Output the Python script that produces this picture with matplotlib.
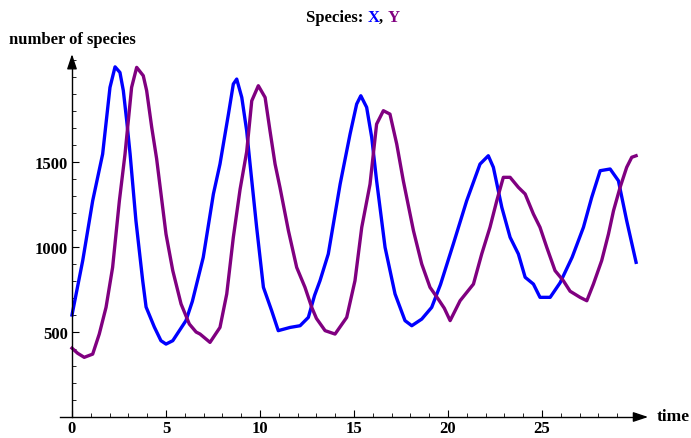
import matplotlib
matplotlib.use("Agg")
import matplotlib.pyplot as plt
from matplotlib.ticker import MultipleLocator

# ---- data ----
t_x = [0, 0.57, 1.1, 1.63, 2.02, 2.29, 2.55, 2.73, 2.91, 3.09, 3.4, 3.76, 3.94, 4.38,
       4.73, 5.0, 5.36, 5.71, 6.06, 6.4, 6.98, 7.52, 7.87, 8.32, 8.58, 8.76, 9.03,
       9.29, 9.47, 9.82, 10.18, 10.62, 10.97, 11.6, 12.13, 12.57, 12.9, 13.19, 13.63,
       14.26, 14.79, 15.14, 15.36, 15.67, 15.94, 16.2, 16.65, 17.18, 17.71, 18.07,
       18.6, 19.13, 19.6, 20.28, 20.99, 21.7, 22.14, 22.41, 22.86, 23.3, 23.74, 24.1,
       24.54, 24.89, 25.43, 25.96, 26.6, 27.2, 27.64, 28.09, 28.62, 29.06, 29.5, 30.0]
x_vals = [600, 920, 1272, 1547, 1939, 2060, 2027, 1920, 1743, 1547, 1155, 802, 647, 529,
          449, 429, 449, 508, 567, 680, 939, 1312, 1488, 1782, 1959, 1988, 1880,
          1684, 1488, 1116, 763, 625, 508, 527, 537, 586, 715, 802, 959,
          1370, 1665, 1841, 1890, 1822, 1645, 1390, 998, 724, 567, 537,
          576, 645, 780, 1018, 1272, 1488, 1537, 1469, 1233, 1057, 959, 822,
          782, 704, 704, 790, 940, 1116, 1292, 1449, 1459, 1390, 1155, 910]

t_y = [0, 0.3, 0.65, 1.1, 1.45, 1.81, 2.16, 2.52, 2.82, 3.17, 3.44, 3.79, 3.97, 4.24,
       4.5, 5.0, 5.36, 5.8, 6.24, 6.6, 6.81, 7.34, 7.87, 8.23, 8.58, 8.94, 9.29,
       9.56, 9.91, 10.27, 10.53, 10.8, 11.06, 11.51, 11.95, 12.39, 12.75, 13.0, 13.46,
       13.99, 14.61, 15.05, 15.41, 15.85, 16.2, 16.56, 16.91, 17.27, 17.62, 18.16,
       18.6, 19.04, 19.5, 19.8, 20.11, 20.64, 21.35, 21.79, 22.23, 22.59, 22.94,
       23.3, 23.74, 24.1, 24.54, 24.89, 25.25, 25.69, 26.13, 26.49, 27.02, 27.38,
       27.73, 28.17, 28.53, 28.8, 29.15, 29.5, 29.77, 30.0]
y_vals = [405, 375, 351, 370, 488, 645, 880, 1272, 1547, 1939, 2057, 2008, 1920, 1704,
          1520, 1076, 861, 665, 547, 500, 488, 439, 527, 724, 1057, 1340, 1560,
          1860, 1949, 1880, 1684, 1488, 1351, 1096, 880, 763, 645, 580, 508,
          488, 586, 802, 1116, 1370, 1723, 1802, 1782, 1606, 1390, 1096,
          900, 763, 690, 640, 567, 684, 782, 959, 1116, 1272, 1410,
          1410, 1351, 1312, 1194, 1116, 998, 861, 802, 740, 704, 684,
          782, 920, 1076, 1214, 1351, 1469, 1528, 1537]

x_major = [0, 5, 10, 15, 20, 25]
y_major = [500, 1000, 1500]

BLUE = "#0000ff"
PURPLE = "#800080"
FONT = "Liberation Serif"

W, H = 691, 439
fig = plt.figure(figsize=(W / 100, H / 100), dpi=100)
ax = fig.add_axes([60 / W, (H - 418) / H, 590 / W, 368 / H])

ax.plot(t_x, x_vals, color=BLUE, lw=2.4, solid_joinstyle="round")
ax.plot(t_y, y_vals, color=PURPLE, lw=2.4, solid_joinstyle="round")

xmin, xmax = -0.638, 30.74
ymin, ymax = 0, 2165
ax.set_xlim(xmin, xmax)
ax.set_ylim(ymin, ymax)

for s in ["top", "right"]:
    ax.spines[s].set_visible(False)
ax.spines["left"].set_position(("data", 0))
ax.spines["bottom"].set_position(("data", 0))
ax.spines["left"].set_bounds(0, 2080)
ax.spines["bottom"].set_bounds(xmin, 30.0)
ax.spines["left"].set_linewidth(1.0)
ax.spines["bottom"].set_linewidth(1.0)

# arrowheads
ax.annotate("", xy=(30.64, 0), xytext=(29.9, 0),
            arrowprops=dict(arrowstyle="-|>,head_length=0.9,head_width=0.3",
                            color="black", lw=1.0, shrinkA=0, shrinkB=0),
            annotation_clip=False)
ax.annotate("", xy=(0, 2135), xytext=(0, 2060),
            arrowprops=dict(arrowstyle="-|>,head_length=0.9,head_width=0.3",
                            color="black", lw=1.0, shrinkA=0, shrinkB=0),
            annotation_clip=False)

ax.set_xticks(x_major)
ax.set_yticks(y_major)
ax.xaxis.set_minor_locator(MultipleLocator(1))
ax.yaxis.set_minor_locator(MultipleLocator(100))
ax.tick_params(axis="both", which="major", direction="in", length=5, width=0.8)
ax.tick_params(axis="both", which="minor", direction="in", length=3, width=0.6)
ax.tick_params(axis="x", which="major", pad=2.5)
ax.tick_params(axis="y", which="major", pad=3)
for lab in ax.get_xticklabels() + ax.get_yticklabels():
    lab.set_fontfamily(FONT)
    lab.set_fontweight("bold")
    lab.set_fontsize(12)

fig.text(9 / W, 1 - 40 / H, "number of species", fontfamily=FONT, fontweight="bold",
         fontsize=12, ha="left", va="center")
fig.text(657 / W, 1 - 417 / H, "time", fontfamily=FONT, fontweight="bold",
         fontsize=12.5, ha="left", va="center")

# title with coloured parts
fig.canvas.draw()
r = fig.canvas.get_renderer()
x0 = 306
ty = 1 - 18 / H
for part, col in [("Species: ", "black"), ("X", BLUE), (", ", "black"), ("Y", PURPLE)]:
    t = fig.text(x0 / W, ty, part, fontfamily=FONT, fontweight="bold", fontsize=12,
                 color=col, ha="left", va="center")
    bb = t.get_window_extent(renderer=r)
    x0 += bb.width

fig.savefig("out.png", dpi=100)
